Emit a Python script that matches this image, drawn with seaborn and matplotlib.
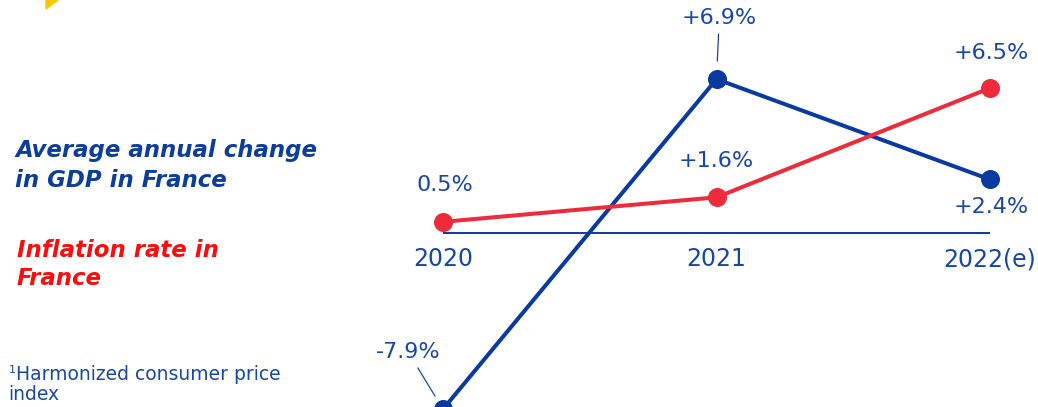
import matplotlib.pyplot as plt
import seaborn as sns
import pandas as pd
import numpy as np
from matplotlib.patches import Polygon

# Data
years = ['2020', '2021', '2022(e)']
gdp_change = [-7.9, 6.9, 2.4]
inflation = [0.5, 1.6, 6.5]
gdp_labels = ['-7.9%', '+6.9%', '+2.4%']
infl_labels = ['0.5%', '+1.6%', '+6.5%']

BLUE = '#0A3A9F'
TEXT_BLUE = '#1747A6'
RED = '#EE2B3B'
TITLE_RED = '#FA0D0D'
YELLOW = '#FFC800'

sns.set_theme(style='white')
plt.rcParams['font.family'] = ['DejaVu Sans']

W, H = 1038, 407
fig = plt.figure(figsize=(W / 100, H / 100), dpi=100)
ax = fig.add_axes([0, 0, 1, 1])

pos = np.arange(len(years))
df = pd.DataFrame({
    'x': np.concatenate([pos, pos]),
    'value': gdp_change + inflation,
    'series': ['GDP'] * len(years) + ['Inflation'] * len(years),
})

# baseline at zero
ax.hlines(0, pos[0], pos[-1], color=BLUE, linewidth=1.4, zorder=1)

sns.lineplot(data=df, x='x', y='value', hue='series',
             palette={'GDP': BLUE, 'Inflation': RED},
             marker='o', markersize=13.7, markeredgewidth=0,
             linewidth=2.9, legend=False, sort=False, ax=ax, zorder=3)

ax.set_xlim(-443 / 273.5, (W - 443) / 273.5)
ax.set_ylim(-(H - 233) / 22.3, 233 / 22.3)
ax.axis('off')

lab_kw = dict(fontsize=16, color=TEXT_BLUE, ha='center', va='center',
              textcoords='offset points', annotation_clip=False)
leader = dict(arrowstyle='-', color=TEXT_BLUE, lw=0.9, shrinkA=2)

# GDP labels
gdp_offsets = [(-25, 41), (2, 44), (0.7, -20)]
for i, (v, t, off) in enumerate(zip(gdp_change, gdp_labels, gdp_offsets)):
    kw = dict(lab_kw)
    if i < 2:
        kw['arrowprops'] = dict(leader, shrinkB=11 if i == 0 else 13)
    ax.annotate(t, xy=(pos[i], v), xytext=off, **kw)

# Inflation labels
infl_offsets = [(1.4, 26.6), (0, 26), (0.7, 25.5)]
for i, (v, t, off) in enumerate(zip(inflation, infl_labels, infl_offsets)):
    ax.annotate(t, xy=(pos[i], v), xytext=off, **lab_kw)

# category labels under the zero line
for i, yr in enumerate(years):
    ax.annotate(yr, xy=(pos[i], 0), xytext=(0, -19),
                **dict(lab_kw, fontsize=17))

# left-hand legend text
def px(x, y):
    return x / W, 1 - y / H

title_kw = dict(fontsize=16.5, fontweight='bold', style='italic', va='baseline')
fig.text(*px(15, 157), 'Average annual change', color='#0B3D9A', **title_kw)
fig.text(*px(15, 187), 'in GDP in France', color='#0B3D9A', **title_kw)
fig.text(*px(17, 257), 'Inflation rate in', color=TITLE_RED, **title_kw)
fig.text(*px(17, 285), 'France', color=TITLE_RED, **title_kw)

fig.text(*px(9, 373), '1', fontsize=8, color=TEXT_BLUE, va='baseline')
fig.text(*px(16, 380), 'Harmonized consumer price', fontsize=13.5,
         color=TEXT_BLUE, va='baseline')
fig.text(*px(8, 400), 'index', fontsize=13.5, color=TEXT_BLUE, va='baseline')

# yellow corner shape
tri = Polygon([px(46, 0), px(58, 0), px(46, 9)], closed=True,
              transform=fig.transFigure, color=YELLOW, zorder=5)
fig.patches.append(tri)

fig.savefig('out.png', dpi=100, facecolor='white')
